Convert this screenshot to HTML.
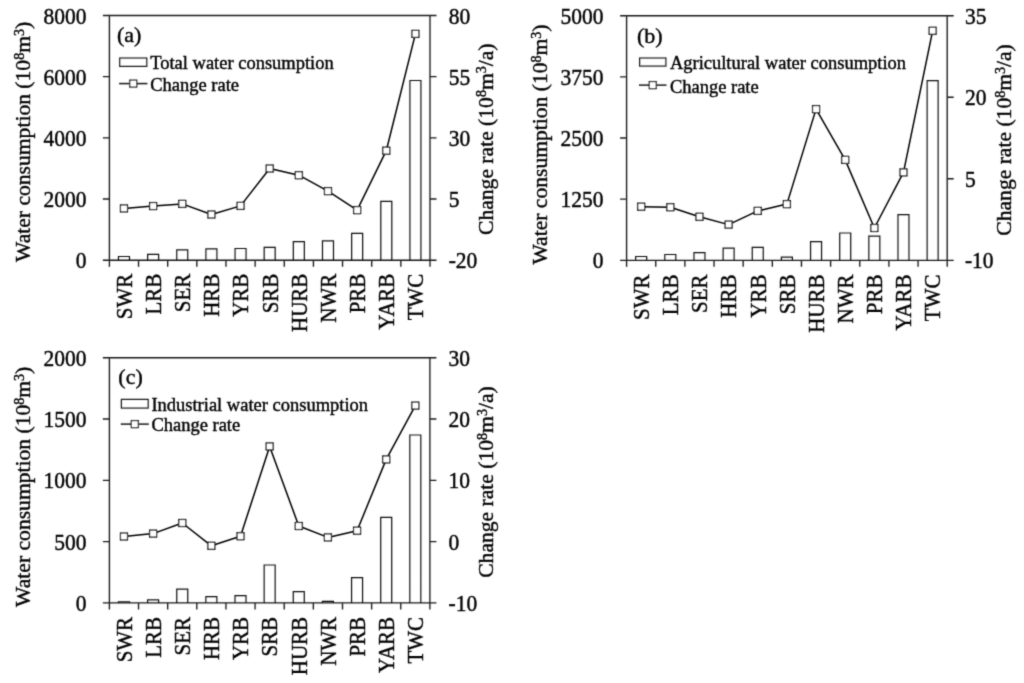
<!DOCTYPE html>
<html><head><meta charset="utf-8"><style>
html,body{margin:0;padding:0;background:#fff;}
svg{display:block;will-change:transform;}
text{font-family:"Liberation Serif",serif;fill:#050505;stroke:#050505;stroke-width:0.4px;}
</style></head><body>
<svg width="1024" height="683" viewBox="0 0 1024 683">
<defs><filter id="bl" x="0" y="0" width="1024" height="683" filterUnits="userSpaceOnUse"><feConvolveMatrix order="3" kernelMatrix="0.0225 0.1050 0.0225 0.1050 0.4900 0.1050 0.0225 0.1050 0.0225" divisor="1" edgeMode="none"/></filter></defs>
<rect width="1024" height="683" fill="#fff"/>
<g filter="url(#bl)">
<path d="M102.9 15.5H436.5M109.4 15.5V260.2M430 15.5V260.2M102.9 260.2H436.5" stroke="#1c1c1c" stroke-width="1.35" fill="none"/>
<path d="M102.9 199.02H109.4M102.9 137.85H109.4M102.9 76.68H109.4M430 199.02H436.5M430 137.85H436.5M430 76.68H436.5M109.4 260.2V266.7M138.55 260.2V266.7M167.69 260.2V266.7M196.84 260.2V266.7M225.98 260.2V266.7M255.13 260.2V266.7M284.27 260.2V266.7M313.42 260.2V266.7M342.56 260.2V266.7M371.71 260.2V266.7M400.85 260.2V266.7M430 260.2V266.7" stroke="#1c1c1c" stroke-width="1.35" fill="none"/>
<path d="M118.47 260.2V256.5H129.47V260.2M147.62 260.2V254.4H158.62V260.2M176.76 260.2V249.8H187.76V260.2M205.91 260.2V248.8H216.91V260.2M235.05 260.2V248.5H246.05V260.2M264.2 260.2V247.4H275.2V260.2M293.35 260.2V241.7H304.35V260.2M322.49 260.2V240.9H333.49V260.2M351.64 260.2V233.3H362.64V260.2M380.78 260.2V201.4H391.78V260.2M409.93 260.2V80.5H420.93V260.2" stroke="#111" stroke-width="1.2" fill="none"/>
<polyline points="123.97,208.4 153.12,206.05 182.26,203.9 211.41,214.5 240.55,205.9 269.7,168.5 298.85,175.2 327.99,191.1 357.14,210.1 386.28,150.7 415.43,33.9" stroke="#000" stroke-width="1.5" fill="none" stroke-linejoin="round"/>
<rect x="120.47" y="204.9" width="7" height="7" fill="#fff" stroke="#000" stroke-width="1.2"/>
<rect x="149.62" y="202.55" width="7" height="7" fill="#fff" stroke="#000" stroke-width="1.2"/>
<rect x="178.76" y="200.4" width="7" height="7" fill="#fff" stroke="#000" stroke-width="1.2"/>
<rect x="207.91" y="211" width="7" height="7" fill="#fff" stroke="#000" stroke-width="1.2"/>
<rect x="237.05" y="202.4" width="7" height="7" fill="#fff" stroke="#000" stroke-width="1.2"/>
<rect x="266.2" y="165" width="7" height="7" fill="#fff" stroke="#000" stroke-width="1.2"/>
<rect x="295.35" y="171.7" width="7" height="7" fill="#fff" stroke="#000" stroke-width="1.2"/>
<rect x="324.49" y="187.6" width="7" height="7" fill="#fff" stroke="#000" stroke-width="1.2"/>
<rect x="353.64" y="206.6" width="7" height="7" fill="#fff" stroke="#000" stroke-width="1.2"/>
<rect x="382.78" y="147.2" width="7" height="7" fill="#fff" stroke="#000" stroke-width="1.2"/>
<rect x="411.93" y="30.4" width="7" height="7" fill="#fff" stroke="#000" stroke-width="1.2"/>
<text transform="translate(86.4,268.2) scale(1,1.05)" text-anchor="end" font-size="21.5">0</text>
<text transform="translate(86.4,207.02) scale(1,1.05)" text-anchor="end" font-size="21.5">2000</text>
<text transform="translate(86.4,145.85) scale(1,1.05)" text-anchor="end" font-size="21.5">4000</text>
<text transform="translate(86.4,84.68) scale(1,1.05)" text-anchor="end" font-size="21.5">6000</text>
<text transform="translate(86.4,23.5) scale(1,1.05)" text-anchor="end" font-size="21.5">8000</text>
<text transform="translate(448.7,268.2) scale(1,1.05)" font-size="21.5">-20</text>
<text transform="translate(448.7,207.02) scale(1,1.05)" font-size="21.5">5</text>
<text transform="translate(448.7,145.85) scale(1,1.05)" font-size="21.5">30</text>
<text transform="translate(448.7,84.68) scale(1,1.05)" font-size="21.5">55</text>
<text transform="translate(448.7,23.5) scale(1,1.05)" font-size="21.5">80</text>
<text transform="translate(131.77,273.7) rotate(-90) scale(1,1.05)" text-anchor="end" font-size="21">SWR</text>
<text transform="translate(160.92,273.7) rotate(-90) scale(1,1.05)" text-anchor="end" font-size="21">LRB</text>
<text transform="translate(190.06,273.7) rotate(-90) scale(1,1.05)" text-anchor="end" font-size="21">SER</text>
<text transform="translate(219.21,273.7) rotate(-90) scale(1,1.05)" text-anchor="end" font-size="21">HRB</text>
<text transform="translate(248.35,273.7) rotate(-90) scale(1,1.05)" text-anchor="end" font-size="21">YRB</text>
<text transform="translate(277.5,273.7) rotate(-90) scale(1,1.05)" text-anchor="end" font-size="21">SRB</text>
<text transform="translate(306.65,273.7) rotate(-90) scale(1,1.05)" text-anchor="end" font-size="21">HURB</text>
<text transform="translate(335.79,273.7) rotate(-90) scale(1,1.05)" text-anchor="end" font-size="21">NWR</text>
<text transform="translate(364.94,273.7) rotate(-90) scale(1,1.05)" text-anchor="end" font-size="21">PRB</text>
<text transform="translate(394.08,273.7) rotate(-90) scale(1,1.05)" text-anchor="end" font-size="21">YARB</text>
<text transform="translate(423.23,273.7) rotate(-90) scale(1,1.05)" text-anchor="end" font-size="21">TWC</text>
<text transform="translate(116.9,41.58)" font-size="22">(a)</text>
<rect x="119.7" y="58" width="27.1" height="8.4" fill="none" stroke="#1c1c1c" stroke-width="1.2"/>
<text transform="translate(150.2,69) scale(1,1.05)" font-size="18.5">Total water consumption</text>
<path d="M119.1 83.6H147.4" stroke="#1c1c1c" stroke-width="1.5"/>
<rect x="129.75" y="80.1" width="7.0" height="7.0" fill="#fff" stroke="#1c1c1c" stroke-width="1.2"/>
<text transform="translate(150.2,91.21) scale(1,1.05)" font-size="18.5">Change rate</text>
<text transform="translate(30.1,262) rotate(-90)" font-size="21.6">Water consumption (10<tspan font-size="14" dy="-6.5">8</tspan><tspan dy="6.5">m</tspan><tspan font-size="14" dy="-6.5">3</tspan><tspan dy="6.5">)</tspan></text>
<text transform="translate(492.8,235) rotate(-90)" font-size="21.6">Change rate (10<tspan font-size="14" dy="-6.5">8</tspan><tspan dy="6.5">m</tspan><tspan font-size="14" dy="-6.5">3</tspan><tspan dy="6.5">/a)</tspan></text>
<path d="M620.1 15.7H953.7M626.6 15.7V260.3M947.2 15.7V260.3M620.1 260.3H953.7" stroke="#1c1c1c" stroke-width="1.35" fill="none"/>
<path d="M620.1 199.15H626.6M620.1 138H626.6M620.1 76.85H626.6M947.2 178.77H953.7M947.2 97.23H953.7M626.6 260.3V266.8M655.75 260.3V266.8M684.89 260.3V266.8M714.04 260.3V266.8M743.18 260.3V266.8M772.33 260.3V266.8M801.47 260.3V266.8M830.62 260.3V266.8M859.76 260.3V266.8M888.91 260.3V266.8M918.05 260.3V266.8M947.2 260.3V266.8" stroke="#1c1c1c" stroke-width="1.35" fill="none"/>
<path d="M635.67 260.3V256.5H646.67V260.3M664.82 260.3V254.5H675.82V260.3M693.96 260.3V252.7H704.96V260.3M723.11 260.3V248.1H734.11V260.3M752.25 260.3V247.3H763.25V260.3M781.4 260.3V257.2H792.4V260.3M810.55 260.3V241.6H821.55V260.3M839.69 260.3V233H850.69V260.3M868.84 260.3V236.2H879.84V260.3M897.98 260.3V214.6H908.98V260.3M927.13 260.3V80.6H938.13V260.3" stroke="#111" stroke-width="1.2" fill="none"/>
<polyline points="641.17,206.7 670.32,207.2 699.46,216.8 728.61,224.6 757.75,210.9 786.9,204.1 816.05,109.1 845.19,159.9 874.34,228 903.48,172.4 932.63,30.8" stroke="#000" stroke-width="1.5" fill="none" stroke-linejoin="round"/>
<rect x="637.67" y="203.2" width="7" height="7" fill="#fff" stroke="#000" stroke-width="1.2"/>
<rect x="666.82" y="203.7" width="7" height="7" fill="#fff" stroke="#000" stroke-width="1.2"/>
<rect x="695.96" y="213.3" width="7" height="7" fill="#fff" stroke="#000" stroke-width="1.2"/>
<rect x="725.11" y="221.1" width="7" height="7" fill="#fff" stroke="#000" stroke-width="1.2"/>
<rect x="754.25" y="207.4" width="7" height="7" fill="#fff" stroke="#000" stroke-width="1.2"/>
<rect x="783.4" y="200.6" width="7" height="7" fill="#fff" stroke="#000" stroke-width="1.2"/>
<rect x="812.55" y="105.6" width="7" height="7" fill="#fff" stroke="#000" stroke-width="1.2"/>
<rect x="841.69" y="156.4" width="7" height="7" fill="#fff" stroke="#000" stroke-width="1.2"/>
<rect x="870.84" y="224.5" width="7" height="7" fill="#fff" stroke="#000" stroke-width="1.2"/>
<rect x="899.98" y="168.9" width="7" height="7" fill="#fff" stroke="#000" stroke-width="1.2"/>
<rect x="929.13" y="27.3" width="7" height="7" fill="#fff" stroke="#000" stroke-width="1.2"/>
<text transform="translate(603.6,268.3) scale(1,1.05)" text-anchor="end" font-size="21.5">0</text>
<text transform="translate(603.6,207.15) scale(1,1.05)" text-anchor="end" font-size="21.5">1250</text>
<text transform="translate(603.6,146) scale(1,1.05)" text-anchor="end" font-size="21.5">2500</text>
<text transform="translate(603.6,84.85) scale(1,1.05)" text-anchor="end" font-size="21.5">3750</text>
<text transform="translate(603.6,23.7) scale(1,1.05)" text-anchor="end" font-size="21.5">5000</text>
<text transform="translate(964.9,268.3) scale(1,1.05)" font-size="21.5">-10</text>
<text transform="translate(964.9,186.77) scale(1,1.05)" font-size="21.5">5</text>
<text transform="translate(964.9,105.23) scale(1,1.05)" font-size="21.5">20</text>
<text transform="translate(964.9,23.7) scale(1,1.05)" font-size="21.5">35</text>
<text transform="translate(648.97,274.5) rotate(-90) scale(1,1.05)" text-anchor="end" font-size="21">SWR</text>
<text transform="translate(678.12,274.5) rotate(-90) scale(1,1.05)" text-anchor="end" font-size="21">LRB</text>
<text transform="translate(707.26,274.5) rotate(-90) scale(1,1.05)" text-anchor="end" font-size="21">SER</text>
<text transform="translate(736.41,274.5) rotate(-90) scale(1,1.05)" text-anchor="end" font-size="21">HRB</text>
<text transform="translate(765.55,274.5) rotate(-90) scale(1,1.05)" text-anchor="end" font-size="21">YRB</text>
<text transform="translate(794.7,274.5) rotate(-90) scale(1,1.05)" text-anchor="end" font-size="21">SRB</text>
<text transform="translate(823.85,274.5) rotate(-90) scale(1,1.05)" text-anchor="end" font-size="21">HURB</text>
<text transform="translate(852.99,274.5) rotate(-90) scale(1,1.05)" text-anchor="end" font-size="21">NWR</text>
<text transform="translate(882.14,274.5) rotate(-90) scale(1,1.05)" text-anchor="end" font-size="21">PRB</text>
<text transform="translate(911.28,274.5) rotate(-90) scale(1,1.05)" text-anchor="end" font-size="21">YARB</text>
<text transform="translate(940.43,274.5) rotate(-90) scale(1,1.05)" text-anchor="end" font-size="21">TWC</text>
<text transform="translate(636.9,42.68)" font-size="22">(b)</text>
<rect x="639.6" y="58" width="26.3" height="8.1" fill="none" stroke="#1c1c1c" stroke-width="1.2"/>
<text transform="translate(669.9,68.7) scale(1,1.05)" font-size="18.5">Agricultural water consumption</text>
<path d="M639 85.1H666.5" stroke="#1c1c1c" stroke-width="1.5"/>
<rect x="649.25" y="81.6" width="7.0" height="7.0" fill="#fff" stroke="#1c1c1c" stroke-width="1.2"/>
<text transform="translate(669.9,92.91) scale(1,1.05)" font-size="18.5">Change rate</text>
<text transform="translate(547.1,264.6) rotate(-90)" font-size="21.6">Water consumption (10<tspan font-size="14" dy="-6.5">8</tspan><tspan dy="6.5">m</tspan><tspan font-size="14" dy="-6.5">3</tspan><tspan dy="6.5">)</tspan></text>
<text transform="translate(1011.2,235.7) rotate(-90)" font-size="21.6">Change rate (10<tspan font-size="14" dy="-6.5">8</tspan><tspan dy="6.5">m</tspan><tspan font-size="14" dy="-6.5">3</tspan><tspan dy="6.5">/a)</tspan></text>
<path d="M102.9 357.7H436.4M109.4 357.7V602.9M429.9 357.7V602.9M102.9 602.9H436.4" stroke="#1c1c1c" stroke-width="1.35" fill="none"/>
<path d="M102.9 541.6H109.4M102.9 480.3H109.4M102.9 419H109.4M429.9 541.6H436.4M429.9 480.3H436.4M429.9 419H436.4M109.4 602.9V609.4M138.54 602.9V609.4M167.67 602.9V609.4M196.81 602.9V609.4M225.95 602.9V609.4M255.08 602.9V609.4M284.22 602.9V609.4M313.35 602.9V609.4M342.49 602.9V609.4M371.63 602.9V609.4M400.76 602.9V609.4M429.9 602.9V609.4" stroke="#1c1c1c" stroke-width="1.35" fill="none"/>
<path d="M118.47 602.9V601.9H129.47V602.9M147.6 602.9V599.8H158.6V602.9M176.74 602.9V589.2H187.74V602.9M205.88 602.9V596.6H216.88V602.9M235.01 602.9V595.7H246.01V602.9M264.15 602.9V565H275.15V602.9M293.29 602.9V591.6H304.29V602.9M322.42 602.9V601.4H333.42V602.9M351.56 602.9V577.7H362.56V602.9M380.7 602.9V517.4H391.7V602.9M409.83 602.9V435H420.83V602.9" stroke="#111" stroke-width="1.2" fill="none"/>
<polyline points="123.97,536.5 153.1,533.6 182.24,523 211.38,545.8 240.51,536.2 269.65,446.4 298.79,526 327.92,537.4 357.06,530.7 386.2,459.4 415.33,405.6" stroke="#000" stroke-width="1.5" fill="none" stroke-linejoin="round"/>
<rect x="120.47" y="533" width="7" height="7" fill="#fff" stroke="#000" stroke-width="1.2"/>
<rect x="149.6" y="530.1" width="7" height="7" fill="#fff" stroke="#000" stroke-width="1.2"/>
<rect x="178.74" y="519.5" width="7" height="7" fill="#fff" stroke="#000" stroke-width="1.2"/>
<rect x="207.88" y="542.3" width="7" height="7" fill="#fff" stroke="#000" stroke-width="1.2"/>
<rect x="237.01" y="532.7" width="7" height="7" fill="#fff" stroke="#000" stroke-width="1.2"/>
<rect x="266.15" y="442.9" width="7" height="7" fill="#fff" stroke="#000" stroke-width="1.2"/>
<rect x="295.29" y="522.5" width="7" height="7" fill="#fff" stroke="#000" stroke-width="1.2"/>
<rect x="324.42" y="533.9" width="7" height="7" fill="#fff" stroke="#000" stroke-width="1.2"/>
<rect x="353.56" y="527.2" width="7" height="7" fill="#fff" stroke="#000" stroke-width="1.2"/>
<rect x="382.7" y="455.9" width="7" height="7" fill="#fff" stroke="#000" stroke-width="1.2"/>
<rect x="411.83" y="402.1" width="7" height="7" fill="#fff" stroke="#000" stroke-width="1.2"/>
<text transform="translate(86.4,610.9) scale(1,1.05)" text-anchor="end" font-size="21.5">0</text>
<text transform="translate(86.4,549.6) scale(1,1.05)" text-anchor="end" font-size="21.5">500</text>
<text transform="translate(86.4,488.3) scale(1,1.05)" text-anchor="end" font-size="21.5">1000</text>
<text transform="translate(86.4,427) scale(1,1.05)" text-anchor="end" font-size="21.5">1500</text>
<text transform="translate(86.4,365.7) scale(1,1.05)" text-anchor="end" font-size="21.5">2000</text>
<text transform="translate(448.6,610.9) scale(1,1.05)" font-size="21.5">-10</text>
<text transform="translate(448.6,549.6) scale(1,1.05)" font-size="21.5">0</text>
<text transform="translate(448.6,488.3) scale(1,1.05)" font-size="21.5">10</text>
<text transform="translate(448.6,427) scale(1,1.05)" font-size="21.5">20</text>
<text transform="translate(448.6,365.7) scale(1,1.05)" font-size="21.5">30</text>
<text transform="translate(131.77,616.9) rotate(-90) scale(1,1.05)" text-anchor="end" font-size="21">SWR</text>
<text transform="translate(160.9,616.9) rotate(-90) scale(1,1.05)" text-anchor="end" font-size="21">LRB</text>
<text transform="translate(190.04,616.9) rotate(-90) scale(1,1.05)" text-anchor="end" font-size="21">SER</text>
<text transform="translate(219.18,616.9) rotate(-90) scale(1,1.05)" text-anchor="end" font-size="21">HRB</text>
<text transform="translate(248.31,616.9) rotate(-90) scale(1,1.05)" text-anchor="end" font-size="21">YRB</text>
<text transform="translate(277.45,616.9) rotate(-90) scale(1,1.05)" text-anchor="end" font-size="21">SRB</text>
<text transform="translate(306.59,616.9) rotate(-90) scale(1,1.05)" text-anchor="end" font-size="21">HURB</text>
<text transform="translate(335.72,616.9) rotate(-90) scale(1,1.05)" text-anchor="end" font-size="21">NWR</text>
<text transform="translate(364.86,616.9) rotate(-90) scale(1,1.05)" text-anchor="end" font-size="21">PRB</text>
<text transform="translate(394,616.9) rotate(-90) scale(1,1.05)" text-anchor="end" font-size="21">YARB</text>
<text transform="translate(423.13,616.9) rotate(-90) scale(1,1.05)" text-anchor="end" font-size="21">TWC</text>
<text transform="translate(118.3,383.58)" font-size="22">(c)</text>
<rect x="121.4" y="399.4" width="26.8" height="8.7" fill="none" stroke="#1c1c1c" stroke-width="1.2"/>
<text transform="translate(151.4,410.7) scale(1,1.05)" font-size="18.5">Industrial water consumption</text>
<path d="M120.8 424.1H148.8" stroke="#1c1c1c" stroke-width="1.5"/>
<rect x="131.3" y="420.6" width="7.0" height="7.0" fill="#fff" stroke="#1c1c1c" stroke-width="1.2"/>
<text transform="translate(151.4,430.51) scale(1,1.05)" font-size="18.5">Change rate</text>
<text transform="translate(30.1,606.9) rotate(-90)" font-size="21.6">Water consumption (10<tspan font-size="14" dy="-6.5">8</tspan><tspan dy="6.5">m</tspan><tspan font-size="14" dy="-6.5">3</tspan><tspan dy="6.5">)</tspan></text>
<text transform="translate(493.4,577.8) rotate(-90)" font-size="21.6">Change rate (10<tspan font-size="14" dy="-6.5">8</tspan><tspan dy="6.5">m</tspan><tspan font-size="14" dy="-6.5">3</tspan><tspan dy="6.5">/a)</tspan></text>
</g>
</svg>
</body></html>
